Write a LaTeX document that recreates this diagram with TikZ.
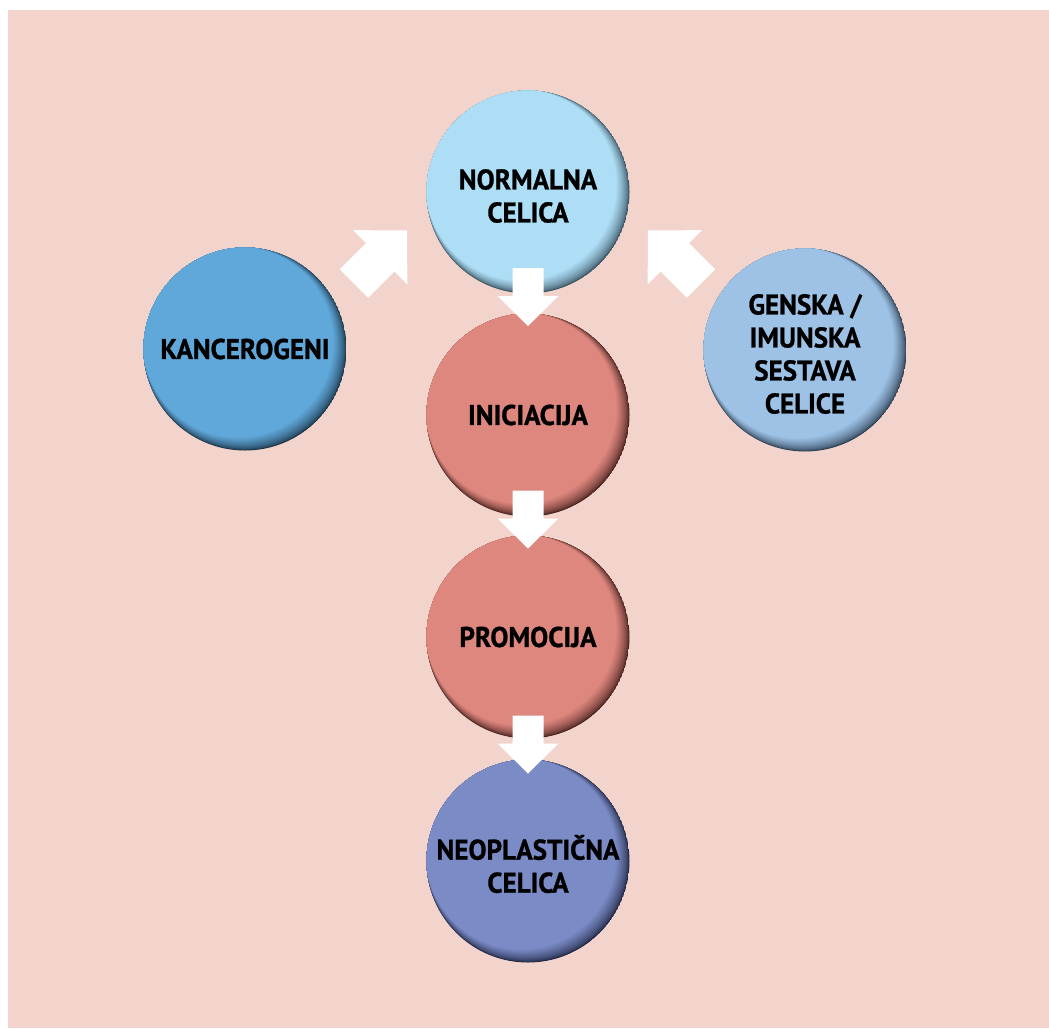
\documentclass[tikz,border=0pt]{standalone}
\usepackage{fontspec}
\usetikzlibrary{calc}
\newfontfamily\labfont{PT Sans}[FakeStretch=0.95, BoldFeatures={FakeBold=0.9}]
\definecolor{bgpink}{HTML}{F2D4CC}
\definecolor{cNorm}{HTML}{AEDEF6}
\definecolor{dNorm}{HTML}{36505E}
\definecolor{cKanc}{HTML}{60A8DA}
\definecolor{dKanc}{HTML}{1A3346}
\definecolor{cGen}{HTML}{9DC2E6}
\definecolor{dGen}{HTML}{2C3D50}
\definecolor{cSal}{HTML}{DE877E}
\definecolor{dSal}{HTML}{45201D}
\definecolor{cNeo}{HTML}{7A8BC6}
\definecolor{dNeo}{HTML}{1F2540}
% layered disc with a soft inner shadow at the lower right
\newcommand\celldisc[3]{%
  \begin{scope}
    \clip (#1) circle (101.5);
    \foreach \i in {0,...,18}{%
      \pgfmathsetmacro\tt{\i/18}%
      \pgfmathtruncatemacro\pc{100*(\tt)^0.6}%
      \fill[#2!\pc!#3] ($(#1)+(-7*\tt,-7*\tt)$) circle ({101.5-6*\tt});
    }
  \end{scope}}
\newcommand\blockarr[6]{% center, angle, half length, head base, shaft half width, head half width
  \fill[white, shift={(#1)}, rotate=#2]
    (-#3,-#5) -- (#4,-#5) -- (#4,-#6) -- (#3,0) -- (#4,#6) -- (#4,#5) -- (-#3,#5) -- cycle;}
\begin{document}
\begin{tikzpicture}[x=1pt, y=-1pt,
  cell/.style={circle, minimum size=203pt, inner sep=0pt},
  lbl/.style={align=center, text=black, inner sep=0pt,
    font=\labfont\bfseries\fontsize{28.5}{33}\selectfont}]
\useasboundingbox (0,0) rectangle (1049,1028);
\fill[bgpink] (8,10) rectangle (1049,1028);
\coordinate (pNorm) at (528,192);
\coordinate (pIni) at (528,415);
\coordinate (pPro) at (528,637);
\coordinate (pNeo) at (528,861);
\coordinate (pKanc) at (245,349);
\coordinate (pGen) at (805,350);
\celldisc{pNorm}{cNorm}{dNorm}
\celldisc{pIni}{cSal}{dSal}
\celldisc{pPro}{cSal}{dSal}
\celldisc{pNeo}{cNeo}{dNeo}
\celldisc{pKanc}{cKanc}{dKanc}
\celldisc{pGen}{cGen}{dGen}
\node[cell] (norm) at (pNorm) {};
\node[cell] (ini) at (pIni) {};
\node[cell] (pro) at (pPro) {};
\node[cell] (neo) at (pNeo) {};
\node[cell] (kanc) at (pKanc) {};
\node[cell] (gen) at (pGen) {};
\node[lbl] (tNorm) at ($(norm)+(0,4)$) {NORMALNA\\CELICA};
\node[lbl] (tIni) at (ini) {INICIACIJA};
\node[lbl] (tPro) at (pro) {PROMOCIJA};
\node[lbl] (tNeo) at ($(neo)+(0,3)$) {NEOPLASTIČNA\\CELICA};
\node[lbl] (tKanc) at (kanc) {KANCEROGENI};
\node[lbl] (tGen) at ($(gen)+(0,4)$) {GENSKA /\\IMUNSKA\\SESTAVA\\CELICE};
\coordinate (a1) at ($(norm.south)!0.5!(ini.north)+(0,-6.5)$);
\coordinate (a2) at ($(ini.south)!0.5!(pro.north)+(0,-6.5)$);
\coordinate (a3) at ($(pro.south)!0.5!(neo.north)+(0,-4.5)$);
\coordinate (a4) at ($(kanc)!0.5!(norm)+(-6,-13.5)$);
\coordinate (a5) at ($(gen)!0.5!(norm)+(8,-14)$);
\blockarr{a1}{-90}{29}{-1}{15.5}{30.5}
\blockarr{a2}{-90}{29}{-1}{15.5}{30.5}
\blockarr{a3}{-90}{29}{-1}{15.5}{30.5}
\blockarr{a4}{45}{37.5}{-0.5}{20}{38.5}
\blockarr{a5}{135}{37.5}{-0.5}{20}{38.5}
\end{tikzpicture}
\end{document}
